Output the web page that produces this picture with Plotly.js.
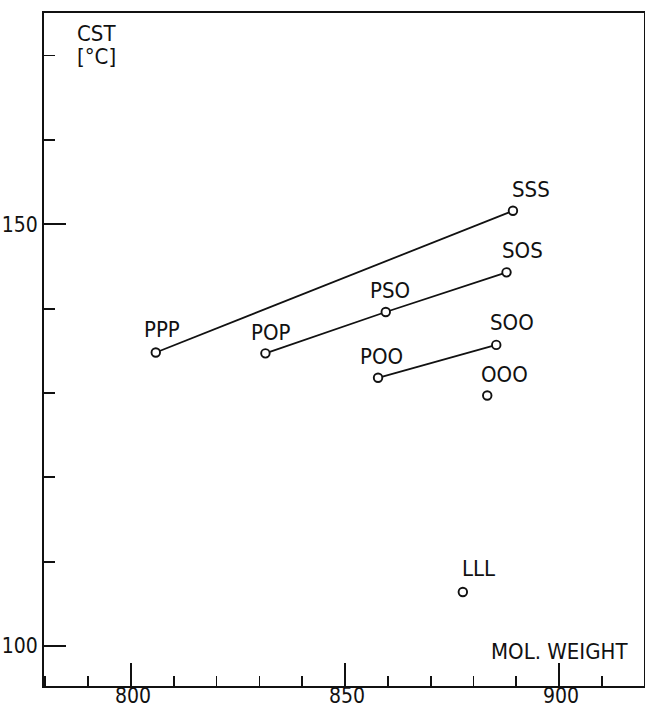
<!DOCTYPE html>
<html>
<head>
<meta charset="utf-8">
<script src="https://cdn.plot.ly/plotly-3.0.1.min.js"></script>
<style>
  html, body { margin: 0; padding: 0; background: #fff; }
  #chart { width: 645px; height: 711px; }
</style>
</head>
<body>
<div id="chart"></div>
<script>
// ---- data ----
const names = ["PPP", "POP", "PSO", "POO", "SSS", "SOS", "SOO", "OOO", "LLL"];
const molWeight = [805.8, 831.4, 859.5, 857.7, 889.2, 887.7, 885.3, 883.2, 877.5];
const cst = [134.8, 134.7, 139.6, 131.8, 151.6, 144.3, 135.7, 129.7, 106.4];
// connected series (by triglyceride name)
const lineGroups = [
  ["PPP", "SSS"],
  ["POP", "PSO", "SOS"],
  ["POO", "SOO"]
];
const xTickVals = [800, 850, 900];
const yTickVals = [100, 150];

// ---- styling (label offsets in px: right, up) ----
const labelOffset = {
  PPP: [6, 23], POP: [6, 21], PSO: [4, 22], POO: [3, 21],
  SSS: [18, 21], SOS: [16, 22], SOO: [16, 22], OOO: [17, 21], LLL: [16, 24]
};
const FONT = "'DejaVu Sans Condensed', 'Liberation Sans Narrow', 'DejaVu Sans', sans-serif";
const INK = "#111";

const traces = [];
lineGroups.forEach(g => {
  const idx = g.map(n => names.indexOf(n));
  traces.push({
    type: "scatter", mode: "lines",
    x: idx.map(i => molWeight[i]), y: idx.map(i => cst[i]),
    line: { color: INK, width: 1.8 },
    hoverinfo: "skip", showlegend: false
  });
});
traces.push({
  type: "scatter", mode: "markers",
  x: molWeight, y: cst, text: names,
  marker: { symbol: "circle", size: 8.5, color: "#fff", line: { color: INK, width: 1.9 } },
  showlegend: false
});

const labelFont = { family: FONT, size: 22, color: INK };
const annotations = names.map((n, i) => ({
  x: molWeight[i], y: cst[i], xref: "x", yref: "y",
  text: n, showarrow: false,
  xshift: labelOffset[n][0], yshift: labelOffset[n][1],
  font: labelFont
}));
annotations.push({
  xref: "paper", yref: "paper", x: 0.052, y: 0.9695, xanchor: "left", yanchor: "middle",
  text: "CST", showarrow: false, font: labelFont
});
annotations.push({
  xref: "paper", yref: "paper", x: 0.052, y: 0.9354, xanchor: "left", yanchor: "middle",
  text: "[°C]", showarrow: false, font: labelFont
});
annotations.push({
  xref: "paper", yref: "paper", x: 0.977, y: 0.052, xanchor: "right", yanchor: "middle",
  text: "MOL. WEIGHT", showarrow: false, font: labelFont
});
// x tick labels, placed so they stay inside the picture
xTickVals.forEach(v => annotations.push({
  xref: "x", yref: "paper", x: v, y: -0.0357, xanchor: "center", yanchor: "bottom",
  text: String(v), showarrow: false, xshift: 2, font: { family: FONT, size: 21, color: INK }
}));

const layout = {
  width: 645, height: 711,
  margin: { l: 44, r: 1, t: 13, b: 25 },
  paper_bgcolor: "#fff", plot_bgcolor: "#fff",
  font: { family: FONT, size: 22, color: INK },
  showlegend: false,
  xaxis: {
    range: [779.7, 919.8],
    tickmode: "array", tickvals: xTickVals, showticklabels: false,
    ticks: "inside", ticklen: 23, tickwidth: 1.8, tickcolor: INK,
    minor: { dtick: 10, tick0: 800, ticks: "inside", ticklen: 10, tickwidth: 1.8, tickcolor: INK },
    showline: true, linecolor: INK, linewidth: 2, mirror: true,
    showgrid: false, zeroline: false
  },
  yaxis: {
    range: [95.26, 175.05],
    tickmode: "array", tickvals: yTickVals, ticktext: yTickVals.map(String),
    ticks: "inside", ticklen: 22, tickwidth: 1.8, tickcolor: INK,
    minor: { dtick: 10, tick0: 100, ticks: "inside", ticklen: 11, tickwidth: 1.8, tickcolor: INK },
    showline: true, linecolor: INK, linewidth: 2, mirror: true,
    showgrid: false, zeroline: false,
    tickfont: { family: FONT, size: 21, color: INK }
  },
  annotations: annotations
};

Plotly.newPlot("chart", traces, layout, { staticPlot: true, displayModeBar: false });
</script>
</body>
</html>
